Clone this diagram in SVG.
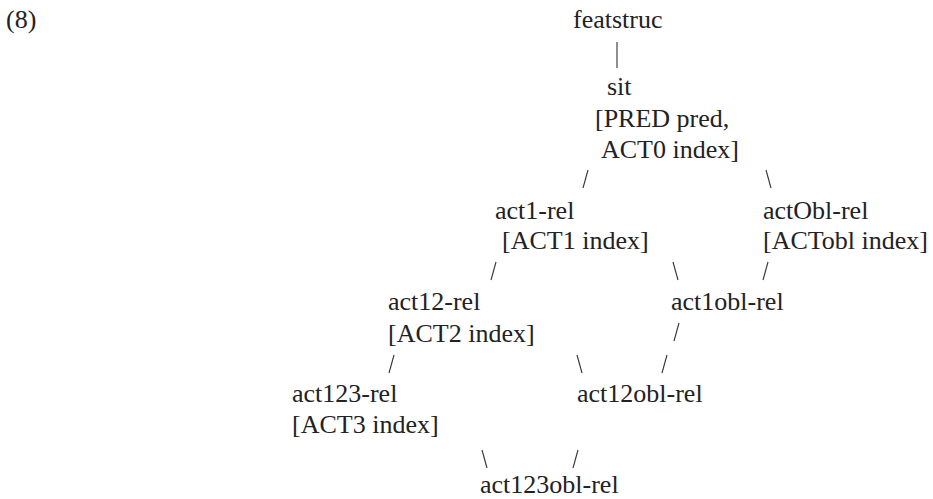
<svg xmlns="http://www.w3.org/2000/svg" width="933" height="499" viewBox="0 0 933 499">
<style>
.t{font-size:26px;fill:#222}
.c line{stroke:#333;stroke-width:1.1}
</style>
<rect width="933" height="499" fill="#fff"/>
<g class="t" font-family="'Liberation Serif', 'Times New Roman', Times, serif">
<text x="6" y="28">(8)</text>
<g id="featstruc"><text x="573" y="28">featstruc</text></g>
<g id="sit"><text x="607" y="95">sit</text><text x="595" y="127">[PRED pred,</text><text x="601" y="158">ACT0 index]</text></g>
<g id="act1-rel"><text x="495" y="219">act1-rel</text><text x="502" y="249">[ACT1 index]</text></g>
<g id="actObl-rel"><text x="763" y="219">actObl-rel</text><text x="763" y="249">[ACTobl index]</text></g>
<g id="act12-rel"><text x="388" y="310">act12-rel</text><text x="388" y="342">[ACT2 index]</text></g>
<g id="act1obl-rel"><text x="671" y="310">act1obl-rel</text></g>
<g id="act123-rel"><text x="292" y="402">act123-rel</text><text x="292" y="433">[ACT3 index]</text></g>
<g id="act12obl-rel"><text x="577" y="402">act12obl-rel</text></g>
<g id="act123obl-rel"><text x="480" y="493">act123obl-rel</text></g>
</g>
<g id="connectors" class="c">
<line x1="617" y1="42" x2="617" y2="68"/>
<line x1="588" y1="170" x2="583" y2="188"/>
<line x1="766" y1="170" x2="771" y2="188"/>
<line x1="496" y1="262" x2="491" y2="280"/>
<line x1="673" y1="262" x2="678" y2="280"/>
<line x1="768" y1="262" x2="763" y2="280"/>
<line x1="679" y1="323" x2="674" y2="341"/>
<line x1="394" y1="355" x2="389" y2="373"/>
<line x1="577" y1="355" x2="582" y2="373"/>
<line x1="667" y1="355" x2="662" y2="373"/>
<line x1="482" y1="450" x2="487" y2="468"/>
<line x1="578" y1="450" x2="573" y2="468"/>
</g>
</svg>
